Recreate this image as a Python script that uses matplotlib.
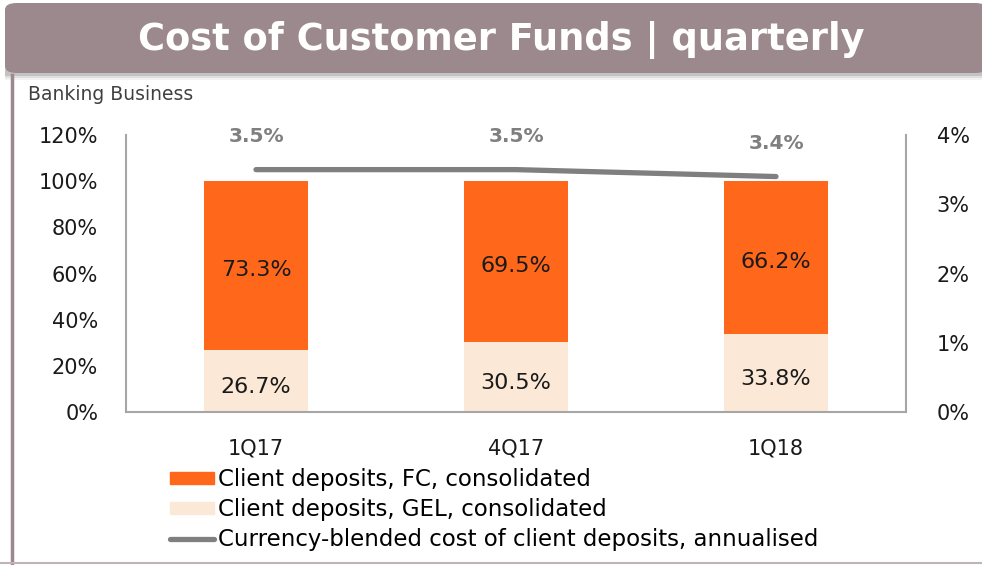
import matplotlib.pyplot as plt
import matplotlib.patches as mpatches
from matplotlib.lines import Line2D

plt.rcParams['font.family'] = ['DejaVu Sans']

quarters = ['1Q17', '4Q17', '1Q18']
gel_share = [26.7, 30.5, 33.8]
fc_share = [73.3, 69.5, 66.2]
blended_cost = [3.5, 3.5, 3.4]

c_fc = '#FF671B'
c_gel = '#FCE8D6'
c_line = '#7F7F7F'
c_banner = '#9B898D'
c_axis = '#A6A6A6'

fig = plt.figure(figsize=(9.82, 5.65), dpi=100)

# banner with a soft shadow
for i, a in enumerate([0.05, 0.08, 0.12]):
    fig.patches.append(mpatches.Rectangle((5/982, 1 - (80 - i*2)/565), 1, 10/565,
                                          transform=fig.transFigure, color='#000000',
                                          alpha=a, lw=0, zorder=0))
fig.patches.append(mpatches.FancyBboxPatch((5/982, 1 - 73/565), 1.0, 70/565,
                                           boxstyle='round,pad=0,rounding_size=0.012',
                                           transform=fig.transFigure, color=c_banner,
                                           lw=0, zorder=1))
fig.text(0.51, 1 - 40/565, 'Cost of Customer Funds | quarterly', color='white',
         fontsize=26.5, fontweight='bold', ha='center', va='center')
fig.add_artist(Line2D([12/982, 12/982], [0, 1 - 75/565], color=c_banner, lw=2.5))
fig.add_artist(Line2D([0, 1], [2/565, 2/565], color='#BFB5B7', lw=1.5))
fig.text(28/982, 1 - 95/565, 'Banking Business', fontsize=13.5, color='#404040',
         va='center', ha='left')

ax = fig.add_axes([126/982, 1 - 412/565, 780/982, 277/565])
x = range(len(quarters))
w = 0.40
ax.bar(x, gel_share, width=w, color=c_gel, zorder=2)
ax.bar(x, fc_share, width=w, bottom=gel_share, color=c_fc, zorder=2)
for i in x:
    ax.text(i, gel_share[i] / 2 - 2.5, f'{gel_share[i]:.1f}%', ha='center', va='center',
            fontsize=16, color='#1a1a1a')
    ax.text(i, gel_share[i] + fc_share[i] / 2 - 2, f'{fc_share[i]:.1f}%', ha='center',
            va='center', fontsize=16, color='#1a1a1a')

ax.set_xlim(-0.5, 2.5)
ax.set_ylim(0, 120)
ax.set_yticks(range(0, 121, 20))
ax.set_yticklabels([f'{v}%' for v in range(0, 121, 20)])
ax.set_xticks(list(x))
ax.set_xticklabels(quarters)
ax.tick_params(length=0, labelsize=15, colors='#1a1a1a')
ax.tick_params(axis='y', pad=20)
ax.tick_params(axis='x', pad=19)
for s in ['top', 'right']:
    ax.spines[s].set_visible(False)
for s in ['left', 'bottom']:
    ax.spines[s].set_color(c_axis)
    ax.spines[s].set_linewidth(1.5)

ax2 = ax.twinx()
ax2.plot(list(x), blended_cost, color=c_line, lw=3.8, solid_capstyle='round', zorder=3)
for i in x:
    ax2.annotate(f'{blended_cost[i]:.1f}%', (i, blended_cost[i]), xytext=(0, 24),
                 textcoords='offset points', ha='center', va='center', fontsize=14.5,
                 fontweight='bold', color=c_line)
ax2.set_ylim(0, 4)
ax2.set_yticks(range(0, 5))
ax2.set_yticklabels([f'{v}%' for v in range(0, 5)])
ax2.tick_params(length=0, labelsize=15, colors='#1a1a1a', pad=22)
for s in ['top', 'left', 'bottom']:
    ax2.spines[s].set_visible(False)
ax2.spines['right'].set_color(c_axis)
ax2.spines['right'].set_linewidth(1.5)

handles = [mpatches.Patch(color=c_fc), mpatches.Patch(color=c_gel),
           Line2D([], [], color=c_line, lw=3.8, solid_capstyle='round')]
labels = ['Client deposits, FC, consolidated', 'Client deposits, GEL, consolidated',
          'Currency-blended cost of client deposits, annualised']
fig.legend(handles, labels, loc='upper left', bbox_to_anchor=(170/982, 1 - 468/565),
           frameon=False, fontsize=16.5, handlelength=1.9, handleheight=0.45,
           handletextpad=0.2, labelspacing=0.3, borderpad=0, borderaxespad=0)

fig.savefig('out.png', dpi=100)
